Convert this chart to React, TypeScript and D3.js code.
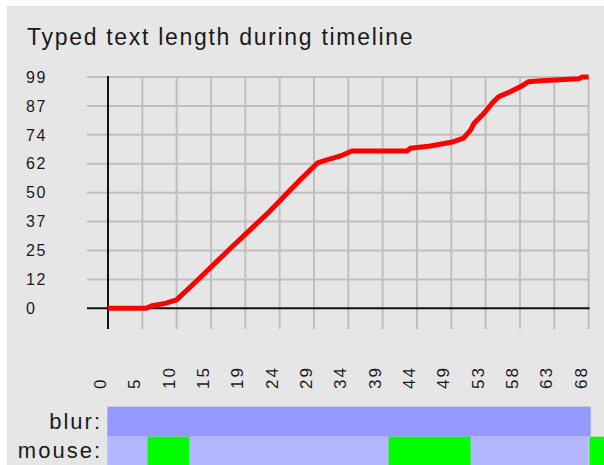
import React, { useEffect, useRef } from "react";
import * as d3 from "d3";

// typed text length over time
const times = [0, 5.4, 6.2, 8.1, 9.7, 12.2, 17.3, 22.5, 27.2, 29.6, 30.5, 32.9, 34.5, 42.3, 42.8, 45.6, 48.9, 50.3, 51.3, 51.8, 53.2, 54.4, 55.3, 56.9, 58.4, 59.5, 61.2, 66.6, 67.1, 68];
const lengths = [0, 0, 1.1, 2.1, 3.6, 10.7, 25.6, 40.4, 55.0, 62.1, 63.1, 65.2, 67.3, 67.3, 68.5, 69.5, 71.3, 72.8, 76.3, 79.2, 83.5, 88.0, 90.6, 92.7, 94.9, 97.0, 97.4, 98.2, 99, 99];

const xTickLabels = ["0", "5", "10", "15", "19", "24", "29", "34", "39", "44", "49", "53", "58", "63", "68"];
const yTickLabels = ["0", "12", "25", "37", "50", "62", "74", "87", "99"];

const blurSpans: [number, number][] = [[0, 68.4]];
const mouseIdleSpans: [number, number][] = [[0, 68.1]];
const mouseActiveSpans: [number, number][] = [[5.6, 11.5], [39.7, 51.3], [68.1, 72]];

const W = 604;
const H = 465;
const FONT = "'Liberation Sans', Arial, sans-serif";

const App: React.FC = () => {
	const svgRef = useRef<SVGSVGElement | null>(null);

	useEffect(() => {
		const svg = d3.select(svgRef.current);
		svg.selectAll("*").remove();

		const tMax = 68;
		const vMax = 99;
		const x = d3.scaleLinear().domain([0, tMax]).range([108, 588.6]);
		const y = d3.scaleLinear().domain([0, vMax]).range([308.3, 77]);

		const xTicks = xTickLabels.map((_, i) => (i * tMax) / (xTickLabels.length - 1));
		const yTicks = yTickLabels.map((_, i) => (i * vMax) / (yTickLabels.length - 1));

		svg.append("rect").attr("width", W).attr("height", H).attr("fill", "#fff");
		svg.append("rect")
			.attr("x", 7)
			.attr("y", 6)
			.attr("width", W - 7)
			.attr("height", H - 6)
			.attr("fill", "#e6e6e6");

		svg.append("text")
			.attr("x", 27)
			.attr("y", 45)
			.attr("font-family", FONT)
			.attr("font-size", 23)
			.attr("letter-spacing", 1.7)
			.attr("fill", "#1a1a1a")
			.text("Typed text length during timeline");

		// grid
		const grid = svg.append("g").attr("stroke", "#bfbfbf").attr("stroke-width", 2);
		grid.selectAll(".hg")
			.data(yTicks.slice(1))
			.enter()
			.append("line")
			.attr("x1", 87)
			.attr("x2", x(tMax) + 1)
			.attr("y1", (d) => y(d))
			.attr("y2", (d) => y(d));
		grid.selectAll(".vg")
			.data(xTicks.slice(1))
			.enter()
			.append("line")
			.attr("x1", (d) => x(d))
			.attr("x2", (d) => x(d))
			.attr("y1", y(vMax) - 1)
			.attr("y2", 329);

		// axes
		svg.append("line")
			.attr("x1", 87)
			.attr("x2", x(tMax) + 1)
			.attr("y1", y(0))
			.attr("y2", y(0))
			.attr("stroke", "#111")
			.attr("stroke-width", 2);
		svg.append("line")
			.attr("x1", x(0))
			.attr("x2", x(0))
			.attr("y1", y(vMax) - 1)
			.attr("y2", 329)
			.attr("stroke", "#111")
			.attr("stroke-width", 2);

		svg.append("g")
			.selectAll("text")
			.data(yTicks)
			.enter()
			.append("text")
			.attr("x", 26)
			.attr("y", (d) => y(d))
			.attr("dy", "0.36em")
			.attr("font-family", FONT)
			.attr("font-size", 16)
			.attr("letter-spacing", 1.5)
			.attr("fill", "#1a1a1a")
			.text((_, i) => yTickLabels[i]);

		svg.append("g")
			.selectAll("text")
			.data(xTicks)
			.enter()
			.append("text")
			.attr("transform", (d) => `translate(${x(d) - 2},389) rotate(-90)`)
			.attr("text-anchor", "start")
			.attr("font-family", FONT)
			.attr("font-size", 17)
			.attr("letter-spacing", 2)
			.attr("fill", "#1a1a1a")
			.text((_, i) => xTickLabels[i]);

		// line
		const line = d3
			.line<number>()
			.x((d) => x(d))
			.y((_, i) => y(lengths[i]));
		svg.append("path")
			.datum(times)
			.attr("d", line)
			.attr("fill", "none")
			.attr("stroke", "#ff0000")
			.attr("stroke-width", 5)
			.attr("stroke-linejoin", "round");

		// event rows
		const rowTop = 406.7;
		const rowH = 30;
		svg.append("g")
			.selectAll("rect")
			.data(blurSpans)
			.enter()
			.append("rect")
			.attr("x", (d) => x(d[0]) - 0.7)
			.attr("y", rowTop)
			.attr("width", (d) => x(d[1]) - x(d[0]))
			.attr("height", rowH)
			.attr("fill", "#9599ff");
		svg.append("g")
			.selectAll("rect")
			.data(mouseIdleSpans)
			.enter()
			.append("rect")
			.attr("x", (d) => x(d[0]) - 0.7)
			.attr("y", rowTop + rowH)
			.attr("width", (d) => x(d[1]) - x(d[0]))
			.attr("height", rowH)
			.attr("fill", "#b4b6ff");
		svg.append("g")
			.selectAll("rect")
			.data(mouseActiveSpans)
			.enter()
			.append("rect")
			.attr("x", (d) => x(d[0]))
			.attr("y", rowTop + rowH)
			.attr("width", (d) => x(d[1]) - x(d[0]))
			.attr("height", rowH)
			.attr("fill", "#00ff00");

		const labels = [
			{ text: "blur:", y: 429 },
			{ text: "mouse:", y: 458 },
		];
		svg.append("g")
			.selectAll("text")
			.data(labels)
			.enter()
			.append("text")
			.attr("x", 102)
			.attr("y", (d) => d.y)
			.attr("text-anchor", "end")
			.attr("font-family", FONT)
			.attr("font-size", 22)
			.attr("letter-spacing", 2)
			.attr("fill", "#1a1a1a")
			.text((d) => d.text);
	}, []);

	return (
		<svg
			ref={svgRef}
			width={W}
			height={H}
			style={{ position: "absolute", left: 0, top: 0, display: "block" }}
		></svg>
	);
};

export default App;
